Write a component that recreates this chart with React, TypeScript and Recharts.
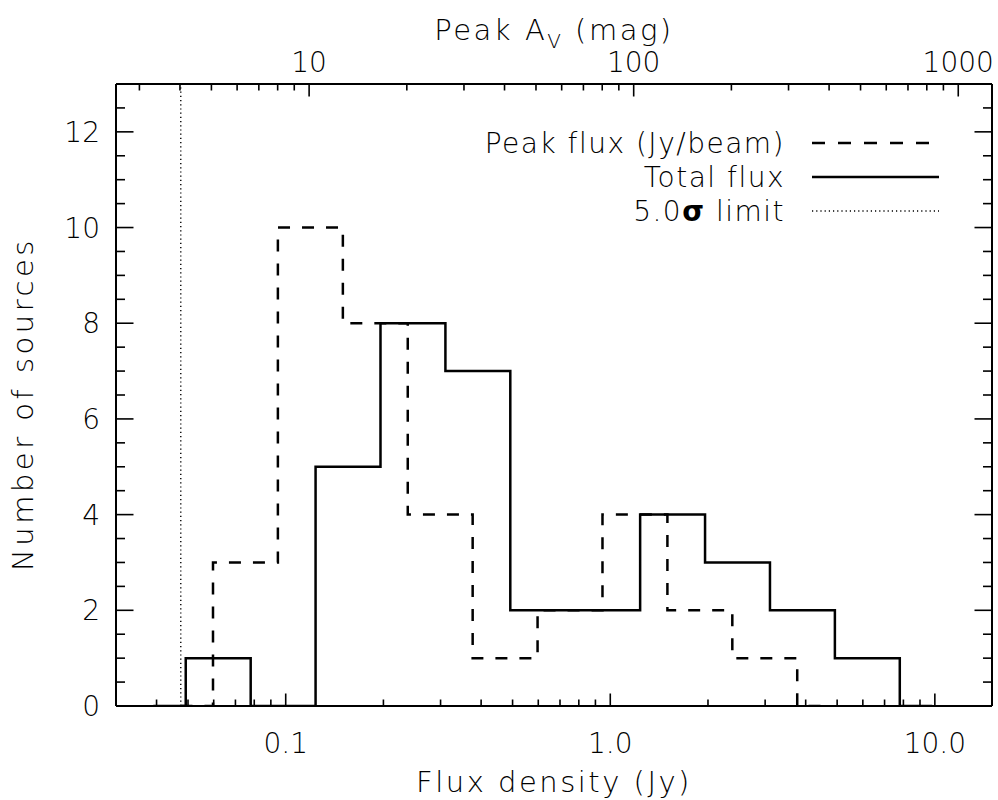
import React from 'react';
import { ComposedChart, Line, XAxis, YAxis, ReferenceLine } from 'recharts';

const FONT = '"DejaVu Sans", "Liberation Sans", sans-serif';
const FONT_WEIGHT = 300;

// Step histograms: each edge (Jy) starts a step of the given count.
const peakFluxEdges = [0.0474, 0.0597, 0.0946, 0.15, 0.2377, 0.3767, 0.597, 0.9462, 1.4997, 2.3768, 3.767, 4.7424];
const peakFluxCounts = [0, 3, 10, 8, 4, 1, 2, 4, 2, 1, 0, 0];

const totalFluxEdges = [0.0391, 0.0492, 0.078, 0.1236, 0.1959, 0.3105, 0.492, 0.7798, 1.2359, 1.9588, 3.1046, 4.9204, 7.798, 9.817];
const totalFluxCounts = [0, 1, 0, 5, 8, 7, 2, 2, 4, 3, 2, 1, 0, 0];

// 5 sigma detection limit (Jy)
const sigmaLimitJy = 0.0475;

// Conversion from peak flux (Jy/beam) to peak visual extinction (mag)
const avPerJy = 84.7;

const fluxDomain = [0.03, 15];
const countDomain = [0, 13];

const fluxMajorTicks = [0.1, 1, 10];
const fluxTickLabels = ['0.1', '1.0', '10.0'];
const fluxMinorTicks = [0.04, 0.05, 0.06, 0.07, 0.08, 0.09, 0.2, 0.3, 0.4, 0.5, 0.6, 0.7, 0.8, 0.9, 2, 3, 4, 5, 6, 7, 8, 9];

const avMajorTicks = [10, 100, 1000];
const avTickLabels = ['10', '100', '1000'];
const avMinorTicks = [3, 4, 5, 6, 7, 8, 9, 20, 30, 40, 50, 60, 70, 80, 90, 200, 300, 400, 500, 600, 700, 800, 900];

const countMajorTicks = [0, 2, 4, 6, 8, 10, 12];
const countMinorTicks = [0.5, 1, 1.5, 2.5, 3, 3.5, 4.5, 5, 5.5, 6.5, 7, 7.5, 8.5, 9, 9.5, 10.5, 11, 11.5, 12.5];

const legendLabels = ['Peak flux (Jy/beam)', 'Total flux', '5.0σ limit'];

const peakFluxData = peakFluxEdges.map((flux, i) => ({ flux, count: peakFluxCounts[i] }));
const totalFluxData = totalFluxEdges.map((flux, i) => ({ flux, count: totalFluxCounts[i] }));
// Same peak-flux histogram expressed in extinction units, used to drive the top axis
const peakAvData = peakFluxEdges.map((flux, i) => ({ av: flux * avPerJy, count: peakFluxCounts[i] }));

const sortNum = (a: number, b: number) => a - b;
const fluxTicks = [...fluxMajorTicks, ...fluxMinorTicks].sort(sortNum);
const avTicks = [...avMajorTicks, ...avMinorTicks].sort(sortNum);
const countTicks = [...countMajorTicks, ...countMinorTicks].sort(sortNum);

const textStyle = {
  fontFamily: FONT,
  fontWeight: FONT_WEIGHT,
  fill: '#000',
};

const findMajor = (list: number[], v: number) => list.findIndex((m) => Math.abs(m - v) / m < 1e-6);

const makeXTick = (majors: number[], labels: string[], side: 'top' | 'bottom') => (props: any) => {
  const { x, y, payload } = props;
  const idx = findMajor(majors, payload.value);
  const isMajor = idx >= 0;
  const len = isMajor ? 12.5 : 6.5;
  const dir = side === 'bottom' ? -1 : 1;
  return (
    <g>
      <line x1={x} y1={y} x2={x} y2={y + dir * len} stroke="#000" strokeWidth={1.6} />
      {isMajor && (
        <text
          x={x}
          y={side === 'bottom' ? y + 47 : y - 12}
          textAnchor="middle"
          fontSize={28}
          {...textStyle}
        >
          {labels[idx]}
        </text>
      )}
    </g>
  );
};

const makeYTick = (side: 'left' | 'right') => (props: any) => {
  const { x, y, payload } = props;
  const v = payload.value;
  const isMajor = countMajorTicks.includes(v);
  const len = isMajor ? 17.5 : 9;
  const dir = side === 'left' ? 1 : -1;
  return (
    <g>
      <line x1={x} y1={y} x2={x + dir * len} y2={y} stroke="#000" strokeWidth={1.6} />
      {side === 'left' && isMajor && (
        <text x={x - 16} y={y} dy="0.36em" textAnchor="end" fontSize={28} {...textStyle}>
          {v}
        </text>
      )}
    </g>
  );
};

const BottomTitle = (props: any) => {
  const { viewBox } = props;
  return (
    <text
      x={viewBox.x + viewBox.width / 2}
      y={viewBox.y + 86}
      textAnchor="middle"
      fontSize={29}
      letterSpacing={2.5}
      {...textStyle}
    >
      Flux density (Jy)
    </text>
  );
};

const TopTitle = (props: any) => {
  const { viewBox } = props;
  return (
    <text
      x={viewBox.x + viewBox.width / 2}
      y={40}
      textAnchor="middle"
      fontSize={29}
      letterSpacing={2.5}
      {...textStyle}
    >
      <tspan>Peak A</tspan>
      <tspan fontSize={20} dy={8}>V</tspan>
      <tspan dy={-8}> (mag)</tspan>
    </text>
  );
};

const LeftTitle = (props: any) => {
  const { viewBox } = props;
  const cx = 33;
  const cy = viewBox.y + viewBox.height / 2 + 9;
  return (
    <text
      x={cx}
      y={cy}
      transform={`rotate(-90 ${cx} ${cy})`}
      textAnchor="middle"
      fontSize={29}
      letterSpacing={3.5}
      {...textStyle}
    >
      Number of sources
    </text>
  );
};

const legendRows = [
  { y: 143, dash: '13 13', width: 2.5 },
  { y: 177, dash: undefined, width: 2.5 },
  { y: 211, dash: '1.2 3', width: 1.4 },
];

const HistogramLegend = () => (
  <g>
    {legendRows.map((row, i) => (
      <g key={legendLabels[i]}>
        <text x={785} y={row.y} dy="0.36em" textAnchor="end" fontSize={28} letterSpacing={1.5} {...textStyle}>
          {i === 2 ? (
            <>
              <tspan>5.0</tspan>
              <tspan fontWeight={700}>σ</tspan>
              <tspan> limit</tspan>
            </>
          ) : (
            legendLabels[i]
          )}
        </text>
        <line x1={812} y1={row.y} x2={939} y2={row.y} stroke="#000" strokeWidth={row.width} strokeDasharray={row.dash} />
      </g>
    ))}
  </g>
);

export default function App() {
  return (
    <div style={{ position: 'absolute', left: 0, top: 0, width: 998, height: 800, background: '#fff' }}>
      <ComposedChart width={998} height={800} margin={{ top: 0, right: 0, bottom: 0, left: 0 }}>
        <XAxis
          xAxisId="flux"
          dataKey="flux"
          type="number"
          scale="log"
          domain={fluxDomain}
          allowDataOverflow
          ticks={fluxTicks}
          interval={0}
          tickSize={0}
          tickMargin={0}
          tickLine={false}
          tick={makeXTick(fluxMajorTicks, fluxTickLabels, 'bottom')}
          axisLine={{ stroke: '#000', strokeWidth: 2 }}
          height={94}
          orientation="bottom"
          label={BottomTitle}
        />
        <XAxis
          xAxisId="av"
          dataKey="av"
          type="number"
          scale="log"
          domain={[fluxDomain[0] * avPerJy, fluxDomain[1] * avPerJy]}
          allowDataOverflow
          ticks={avTicks}
          interval={0}
          tickSize={0}
          tickMargin={0}
          tickLine={false}
          tick={makeXTick(avMajorTicks, avTickLabels, 'top')}
          axisLine={{ stroke: '#000', strokeWidth: 2 }}
          height={84}
          orientation="top"
          label={TopTitle}
        />
        <YAxis
          yAxisId="count"
          type="number"
          domain={countDomain}
          allowDataOverflow
          ticks={countTicks}
          interval={0}
          tickSize={0}
          tickMargin={0}
          tickLine={false}
          tick={makeYTick('left')}
          axisLine={{ stroke: '#000', strokeWidth: 2 }}
          width={116}
          orientation="left"
          label={LeftTitle}
        />
        <YAxis
          yAxisId="countRight"
          type="number"
          domain={countDomain}
          allowDataOverflow
          ticks={countTicks}
          interval={0}
          tickSize={0}
          tickMargin={0}
          tickLine={false}
          tick={makeYTick('right')}
          axisLine={{ stroke: '#000', strokeWidth: 2 }}
          width={6}
          orientation="right"
        />
        <ReferenceLine
          xAxisId="flux"
          yAxisId="count"
          x={sigmaLimitJy}
          stroke="#000"
          strokeWidth={1.4}
          strokeDasharray="1.2 3"
        />
        {/* invisible series that gives the extinction axis its data */}
        <Line
          xAxisId="av"
          yAxisId="count"
          data={peakAvData}
          dataKey="count"
          type="stepAfter"
          stroke="none"
          strokeWidth={0}
          dot={false}
          activeDot={false}
          legendType="none"
          isAnimationActive={false}
        />
        <Line
          xAxisId="flux"
          yAxisId="count"
          data={peakFluxData}
          dataKey="count"
          type="stepAfter"
          stroke="#000"
          strokeWidth={2.5}
          strokeDasharray="12 12"
          dot={false}
          activeDot={false}
          isAnimationActive={false}
        />
        <Line
          xAxisId="flux"
          yAxisId="count"
          data={totalFluxData}
          dataKey="count"
          type="stepAfter"
          stroke="#000"
          strokeWidth={2.5}
          dot={false}
          activeDot={false}
          isAnimationActive={false}
        />
        <HistogramLegend />
      </ComposedChart>
    </div>
  );
}
